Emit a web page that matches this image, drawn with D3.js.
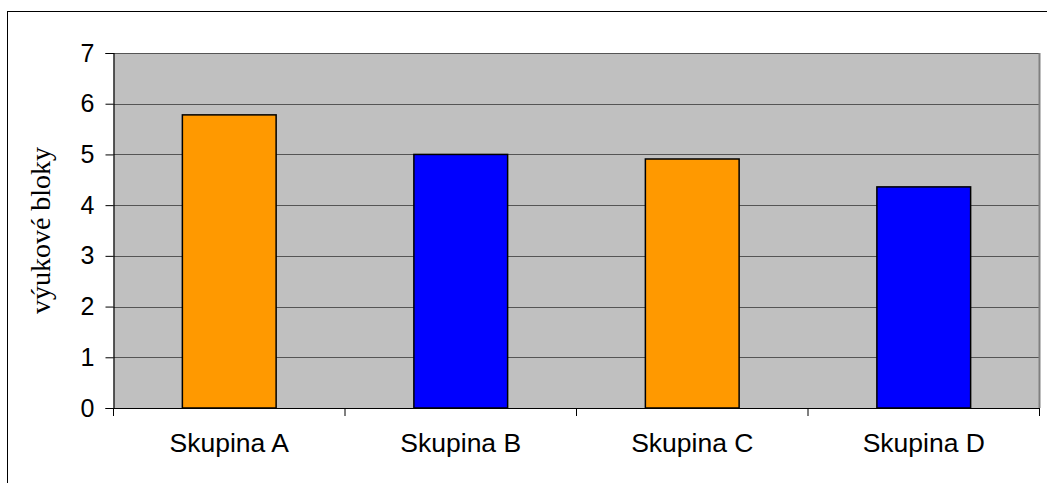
<!DOCTYPE html>
<html><head><meta charset="utf-8">
<script src="https://cdn.jsdelivr.net/npm/d3@7"></script>
<style>body{margin:0;background:#fff}svg{display:block}</style>
</head><body>
<svg id="c" width="1047" height="483"></svg>
<script>
const categories = ["Skupina A", "Skupina B", "Skupina C", "Skupina D"];
const values = [5.78, 5.0, 4.91, 4.36];
const barColors = ["#FF9900", "#0000FF", "#FF9900", "#0000FF"];
const yTicks = [0, 1, 2, 3, 4, 5, 6, 7];
const yTitle = "výukové bloky";

const svg = d3.select("#c");
const L = 113.5, R = 1039.5, T = 53, B = 408;

// outer frame
svg.append("rect").attr("x", 7.5).attr("y", 11.5).attr("width", 1100).attr("height", 600)
  .attr("fill", "none").attr("stroke", "#000").attr("stroke-width", 1);

const x = d3.scaleBand().domain(categories).range([L, R]).paddingInner(0.595).paddingOuter(0.2975);
const y = d3.scaleLinear().domain([0, 7]).range([B, T]);

// plot background
svg.append("rect").attr("x", L).attr("y", T).attr("width", R - L).attr("height", B - T).attr("fill", "#C0C0C0");

// gridlines
svg.append("g").selectAll("line").data(yTicks.filter(d => d > 0)).join("line")
  .attr("x1", L).attr("x2", R).attr("y1", d => Math.round(y(d)) + 0.5).attr("y2", d => Math.round(y(d)) + 0.5)
  .attr("stroke", "#555").attr("stroke-width", 1);

// right border of plot
svg.append("line").attr("x1", R).attr("x2", R).attr("y1", T).attr("y2", B)
  .attr("stroke", "#808080").attr("stroke-width", 2);

// bars
svg.append("g").selectAll("rect").data(values).join("rect")
  .attr("x", (d, i) => x(categories[i]))
  .attr("y", d => y(d))
  .attr("width", x.bandwidth())
  .attr("height", d => B - y(d))
  .attr("fill", (d, i) => barColors[i])
  .attr("stroke", "#000").attr("stroke-width", 1.5);

// y axis
const ya = svg.append("g").attr("transform", `translate(${L},0)`)
  .call(d3.axisLeft(y).tickValues(yTicks).tickSize(8).tickPadding(11).tickFormat(d3.format("d")));
ya.select(".domain").attr("stroke", "#000").attr("stroke-width", 1.2);
ya.selectAll(".tick line").attr("stroke", "#000");
ya.selectAll("text").attr("font-family", "'Liberation Sans', Arial, sans-serif").attr("font-size", 25).attr("fill", "#000");

// x axis
const xa = svg.append("g").attr("transform", `translate(0,${B})`)
  .call(d3.axisBottom(x).tickSize(0).tickPadding(25));
xa.select(".domain").remove();
xa.selectAll("text").attr("font-family", "'Liberation Sans', Arial, sans-serif").attr("font-size", 26.5).attr("fill", "#000");
svg.append("line").attr("x1", L).attr("x2", R).attr("y1", B + 0.5).attr("y2", B + 0.5).attr("stroke", "#000").attr("stroke-width", 1.2);
// category boundary ticks
const bounds = d3.range(categories.length + 1).map(i => L + i * x.step());
svg.append("g").selectAll("line").data(bounds).join("line")
  .attr("x1", d => d).attr("x2", d => d).attr("y1", B).attr("y2", B + 8)
  .attr("stroke", "#000").attr("stroke-width", 1);

// y title
svg.append("text").attr("transform", `translate(50,${(T + B) / 2}) rotate(-90)`)
  .attr("text-anchor", "middle").attr("font-family", "'Liberation Serif', 'Times New Roman', serif")
  .attr("font-size", 28).attr("fill", "#000").text(yTitle);
</script>
</body></html>
